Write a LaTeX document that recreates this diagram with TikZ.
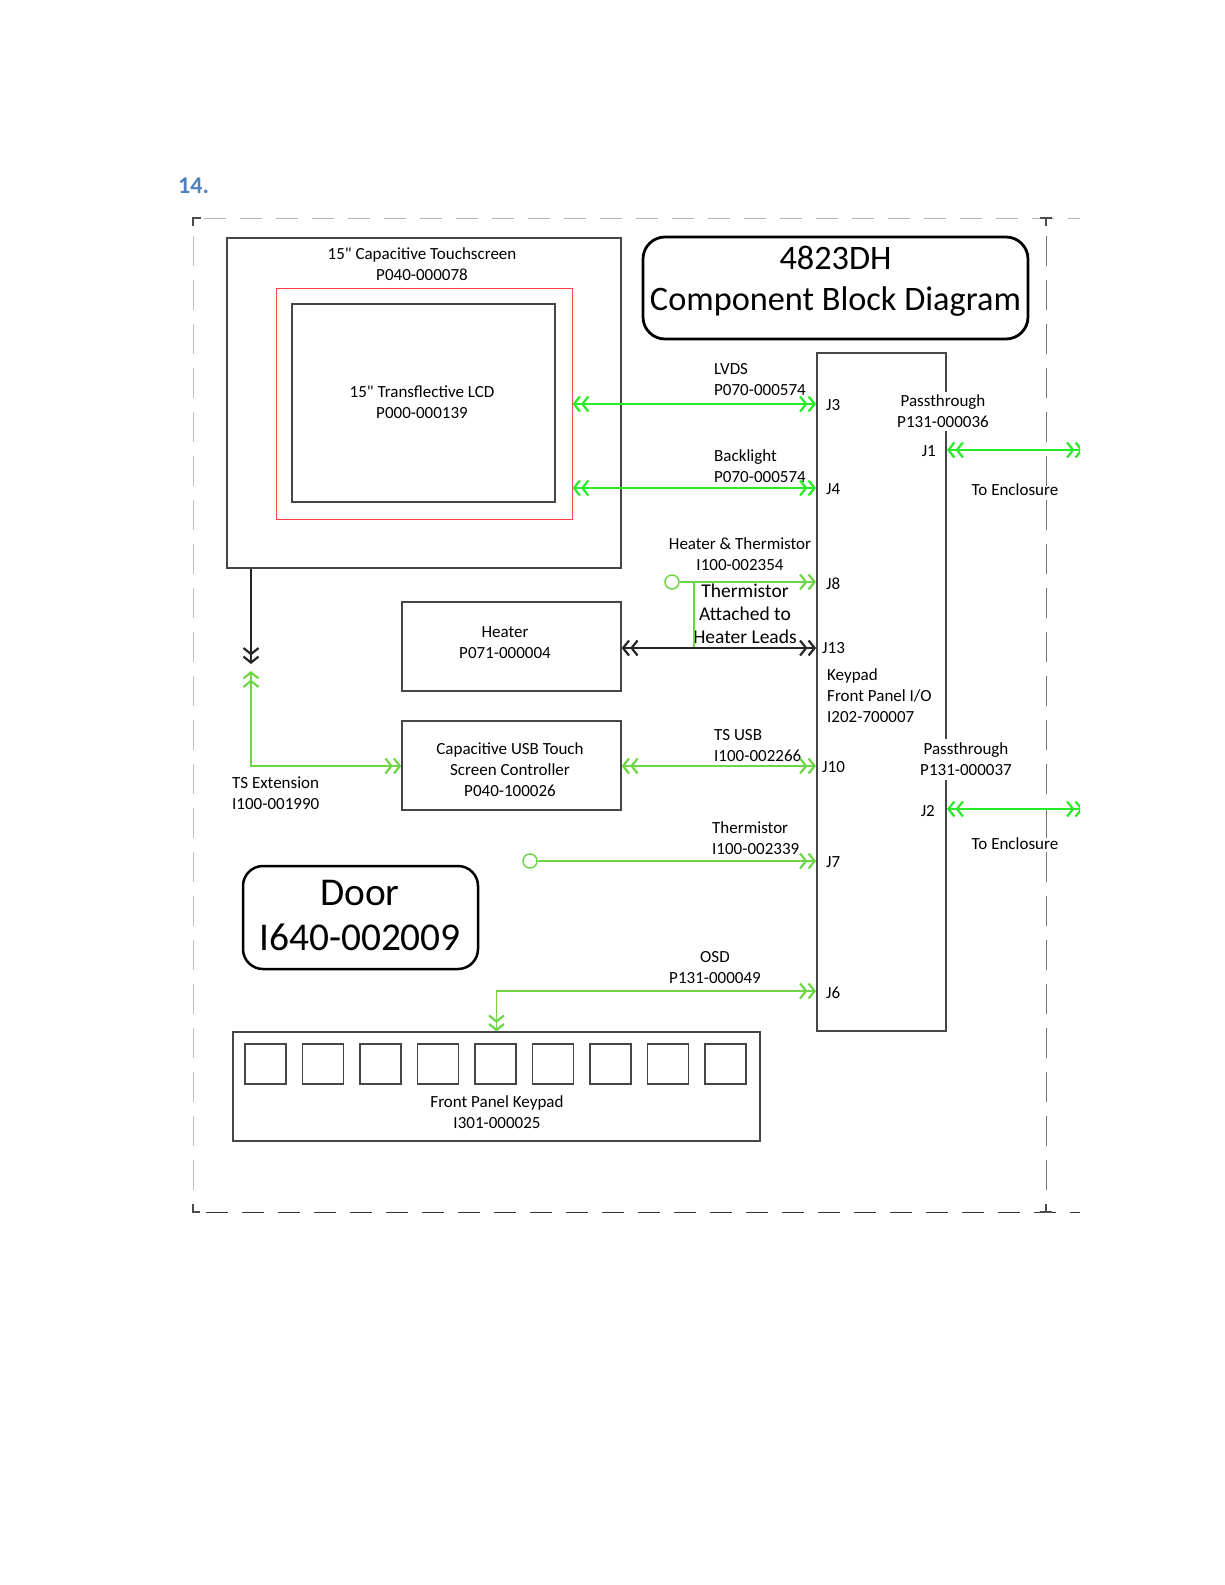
\documentclass[tikz,border=0pt]{standalone}
\usepackage{fontspec}
\setmainfont{Carlito}
\newfontfamily\inchfont[Ligatures=ResetAll]{Carlito}
\usetikzlibrary{arrows.meta}

\definecolor{headblue}{RGB}{79,129,189}
\definecolor{brightgreen}{RGB}{40,235,40}
\definecolor{softgreen}{RGB}{110,214,70}
\definecolor{edge}{RGB}{70,70,70}
\newcommand\txt{\fontsize{17}{21}\selectfont}
\newcommand\inch{{\inchfont\symbol{34}}}

\tikzset{
  chev/.tip={Straight Barb[length=6pt,width=15pt,line width=2.2pt] Straight Barb[length=6pt,width=15pt,line width=2.2pt]},
  box/.style={draw=edge, line width=1.3pt, inner sep=0pt},
  roundbox/.style={draw=black, line width=2.8pt, rounded corners=22pt, inner sep=0pt},
  link/.style={brightgreen, line width=1.5pt, chev-chev},
  slink/.style={softgreen, line width=1.5pt},
  blk/.style={black!85, line width=1.3pt},
  lbl/.style={font=\txt, inner sep=0pt, align=left, anchor=west},
  clbl/.style={font=\txt, inner sep=0pt, align=center},
  pin/.style={circle, draw=softgreen, line width=1.5pt, minimum size=14pt, inner sep=0pt},
  pagebreak/.style={line width=1pt, dash pattern=on 22pt off 14pt}
}

\begin{document}
\begin{tikzpicture}[x=1pt, y=-1pt]
        \useasboundingbox (0,0) rectangle (1225,1585);
        % heading
        \node[font=\fontsize{24}{28}\selectfont\bfseries, text=headblue, anchor=west, inner sep=0pt] (num) at (178,186) {14.};
        % page frame
        \begin{scope}
        \clip (0,0) rectangle (1080,1585);
        \draw[pagebreak, black!30] (204,218) -- (1080,218);
        \draw[pagebreak, black!80] (206,1212) -- (1080,1212);
        \draw[black!25, line width=1pt, dash pattern=on 30pt off 14pt] (193,236) -- (193,1200);
        \draw[black!55, line width=1pt, dash pattern=on 30pt off 14pt] (1046,236) -- (1046,1200);
        \draw[black!70, line width=2pt] (193,226) -- (193,218) -- (201,218);
        \draw[black!70, line width=2pt] (1040,218) -- (1052,218) (1046,218) -- (1046,226);
        \draw[black!70, line width=1.5pt] (193,1204) -- (193,1212) -- (200,1212);
        \draw[black!70, line width=1.5pt] (1040,1212) -- (1052,1212) (1046,1212) -- (1046,1204);
        \end{scope}
        % blocks
        \node[box, minimum width=394pt, minimum height=330pt] (ts) at (424,403) {};
        \node[draw=red!75, line width=1pt, minimum width=296pt, minimum height=231pt, inner sep=0pt] (lcdred) at (424,403.5) {};
        \node[box, minimum width=263pt, minimum height=198pt] (lcd) at (423.5,403) {};
        \node[roundbox, minimum width=385pt, minimum height=102pt] (title) at (835.5,288) {};
        \node[box, minimum width=129pt, minimum height=678pt] (io) at (881.5,692) {};
        \node[box, minimum width=219pt, minimum height=89pt] (heater) at (511.5,646.5) {};
        \node[box, minimum width=219pt, minimum height=89pt] (usb) at (511.5,765.5) {};
        \node[roundbox, rounded corners=20pt, line width=2.5pt, minimum width=235pt, minimum height=103pt] (door) at (360.5,917.5) {};
        \node[box, minimum width=527pt, minimum height=109pt] (keypad) at (496.5,1086.5) {};
        \foreach \i in {0,...,8}
            \node[box, minimum width=41pt, minimum height=40pt] (key\i) at ({265.5+57.5*\i},1064) {};
        % block texts
        \node[clbl] (tstext) at (422,264.5) {15\inch{} Capacitive Touchscreen\\P040-000078};
        \node[clbl] (lcdtext) at (422,402.5) {15\inch{} Transflective LCD\\P000-000139};
        \node[clbl, font=\fontsize{34.3}{41}\selectfont] (titletext) at (835.5,281.5) {4823DH\\Component Block Diagram};
        \node[clbl] (heatertext) at (505,643) {Heater\\P071-000004};
        \node[clbl] (usbtext) at (510,770) {Capacitive USB Touch\\Screen Controller\\P040-100026};
        \node[clbl, font=\fontsize{39.4}{45}\selectfont] (doortext) at (360,915.5) {Door\\I640-002009};
        \node[clbl] (keypadtext) at (497,1112) {Front Panel Keypad\\I301-000025};
        \node[lbl] (iotext) at (827,696) {Keypad\\Front Panel I/O\\I202-700007};
        \node[clbl, fill=white, inner ysep=3pt] (pass1) at (943,411.5) {Passthrough\\P131-000036};
        \node[clbl, fill=white, inner ysep=4pt] (pass2) at (966,759.5) {Passthrough\\P131-000037};
        \node[clbl] (encl1) at (1015,490) {To Enclosure};
        \node[clbl] (encl2) at (1015,844) {To Enclosure};
        % jacks
        \coordinate (j3) at (816,404);
        \coordinate (j4) at (816,488);
        \coordinate (j8) at (816,582);
        \coordinate (j13) at (816,648);
        \coordinate (j10) at (816,766);
        \coordinate (j7) at (816,861);
        \coordinate (j6) at (816,991);
        \coordinate (j1) at (947,450);
        \coordinate (j2) at (947,809);
        \node[lbl] (j3text) at (826,405) {J3};
        \node[lbl] (j4text) at (826,489) {J4};
        \node[lbl] (j8text) at (826,584) {J8};
        \node[lbl] (j13text) at (822,648) {J13};
        \node[lbl] (j10text) at (822,767) {J10};
        \node[lbl] (j7text) at (826,862) {J7};
        \node[lbl] (j6text) at (826,993) {J6};
        \node[lbl, anchor=east] (j1text) at (936,451) {J1};
        \node[lbl, anchor=east] (j2text) at (935,811) {J2};
        % cable labels
        \node[lbl] (lvds) at (714,379.5) {LVDS\\P070-000574};
        \node[lbl] (backlight) at (714,466.5) {Backlight\\P070-000574};
        \node[clbl] (heatth) at (740,554.5) {Heater \& Thermistor\\I100-002354};
        \node[clbl, font=\fontsize{19.5}{23}\selectfont] (thnote) at (745,614) {Thermistor\\Attached to\\Heater Leads};
        \node[lbl] (tsusb) at (714,745.5) {TS USB\\I100-002266};
        \node[lbl] (therm) at (712,838.5) {Thermistor\\I100-002339};
        \node[clbl] (osd) at (715,968) {OSD\\P131-000049};
        \node[lbl] (tsext) at (232,793.5) {TS Extension\\I100-001990};
        % cables
        \draw[link] (lcdred.east |- j3) -- (j3);
        \draw[link] (lcdred.east |- j4) -- (j4);
        \begin{scope}
        \clip (0,0) rectangle (1080,1585);
        \coordinate (out1) at (1083,450);
        \coordinate (out2) at (1083,809);
        \draw[link] (j1) -- (out1);
        \draw[link] (j2) -- (out2);
        \end{scope}
        \node[pin] (th1) at (672,582) {};
        \coordinate (tap) at (694,582);
        \draw[slink, -chev] (th1) -- (j8);
        \draw[slink] (tap) -- (tap |- j13);
        \draw[blk, chev-chev] (heater.east |- j13) -- (j13);
        \draw[slink, chev-chev] (usb.east |- j10) -- (j10);
        \coordinate (tsdown) at (251,664);
        \coordinate (tsup) at (251,671);
        \draw[blk, -chev] (ts.south -| tsdown) -- (tsdown);
        \draw[slink, chev-chev] (tsup) |- (usb.west |- j10);
        \node[pin] (th2) at (530,861) {};
        \draw[slink, -chev] (th2) -- (j7);
        \draw[slink, chev-chev] (j6) -| (keypad.north);
    \end{tikzpicture}
\end{document}
